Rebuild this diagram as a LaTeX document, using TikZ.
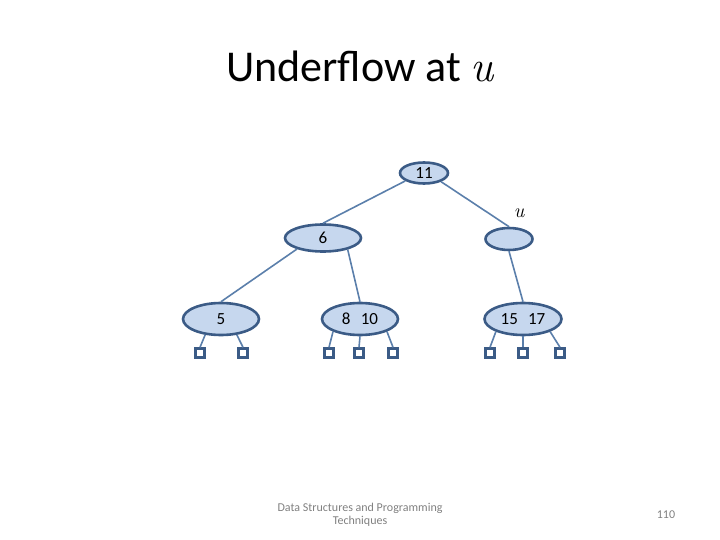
\documentclass[tikz,border=0pt]{standalone}
\usepackage{fontspec}
\setmainfont{Carlito}
\newfontfamily\mathlike{Latin Modern Roman}
\usetikzlibrary{shapes.geometric}
\definecolor{nodefill}{HTML}{C6D7EE}
\definecolor{nodeborder}{HTML}{3B5B86}
\definecolor{edgecol}{HTML}{5B7FAB}
\definecolor{footgray}{HTML}{808080}
\newcommand{\varu}{{\mathlike\itshape u}}
\tikzset{
  keynode/.style={ellipse, draw=nodeborder, fill=nodefill, line width=2.6pt, inner sep=0pt,
    font=\fontsize{17}{19}\selectfont},
  leafbox/.style={rectangle, draw=nodeborder, fill=white, line width=2.4pt, minimum size=9pt, inner sep=0pt},
  edge/.style={draw=edgecol, line width=1.6pt},
}
\begin{document}
\begin{tikzpicture}[x=1pt,y=-1pt]
\useasboundingbox (0,0) rectangle (720,540);
% title
\node[anchor=base, font=\fontsize{44}{50}\selectfont] (title) at (360,82) {Underflow at \varu};
% internal nodes
\node[keynode, minimum width=48pt, minimum height=21pt] (n11) at (424,173) {11};
\node[keynode, minimum width=76pt, minimum height=27pt] (n6) at (323,238) {6};
\node[keynode, minimum width=47pt, minimum height=22pt] (nu) at (509,239) {};
\node[font=\fontsize{20}{22}\selectfont] (ulab) at (519,213) {\varu};
% leaf-level key nodes
\node[keynode, minimum width=76pt, minimum height=32pt] (n5) at (221,319) {5};
\node[keynode, minimum width=76pt, minimum height=32pt] (n810) at (360,319) {8\hspace{0.6em}10};
\node[keynode, minimum width=77pt, minimum height=32pt] (n1517) at (523,319) {15\hspace{0.6em}17};
% empty leaves
\node[leafbox] (l1) at (200,353) {};
\node[leafbox] (l2) at (243,353) {};
\node[leafbox] (l3) at (329,353) {};
\node[leafbox] (l4) at (359,353) {};
\node[leafbox] (l5) at (393,353) {};
\node[leafbox] (l6) at (490,353) {};
\node[leafbox] (l7) at (523,353) {};
\node[leafbox] (l8) at (560,353) {};
% edges
\draw[edge] (n11.203) -- (n6.north);
\draw[edge] (n11.333) -- (nu.north);
\draw[edge] (n6.203) -- (n5.north);
\draw[edge] (n6.335) -- (n810.north);
\draw[edge] (nu.south) -- (n1517.north);
\draw[edge] (n5.225) -- (l1.north);
\draw[edge] (n5.315) -- (l2.north);
\draw[edge] (n810.205) -- (l3.north);
\draw[edge] (n810.south) -- (l4.north);
\draw[edge] (n810.335) -- (l5.north);
\draw[edge] (n1517.205) -- (l6.north);
\draw[edge] (n1517.south) -- (l7.north);
\draw[edge] (n1517.335) -- (l8.north);
% footer
\node[align=center, text=footgray, font=\fontsize{12}{13.5}\selectfont] (foot) at (360,515) {Data Structures and Programming\\Techniques};
\node[text=footgray, font=\fontsize{12}{13.5}\selectfont] (page) at (666,515) {110};
\end{tikzpicture}
\end{document}
